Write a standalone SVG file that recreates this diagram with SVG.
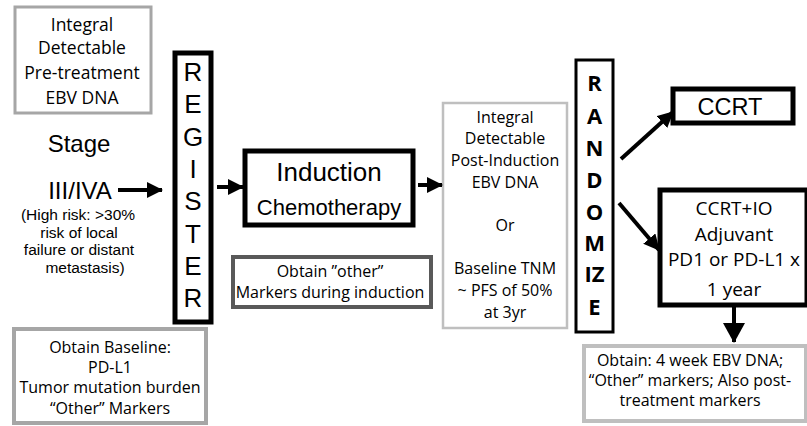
<svg xmlns="http://www.w3.org/2000/svg" width="807" height="426" viewBox="0 0 807 426">
<defs>
<marker id="ah" markerUnits="userSpaceOnUse" markerWidth="16" markerHeight="16" viewBox="0 0 16 16" refX="15" refY="8" orient="auto"><path d="M0,0 L16,8 L0,16 z" fill="#000"/></marker>
<marker id="ahb" markerUnits="userSpaceOnUse" markerWidth="20" markerHeight="22" viewBox="0 0 20 22" refX="19" refY="11" orient="auto"><path d="M0,0 L20,11 L0,22 z" fill="#000"/></marker>
</defs>
<style>
.c{font-family:"Open Sans","Noto Sans",sans-serif;fill:#000;text-anchor:middle}
.a{font-family:"Liberation Sans",Arial,sans-serif;fill:#000;text-anchor:middle}
.b{font-family:"Open Sans","Noto Sans",sans-serif;font-weight:bold;font-size:22px;text-anchor:middle}
.lg{fill:#fff;stroke:#a6a6a6}
.ll{fill:#fff;stroke:#bfbfbf}
.bk{fill:#fff;stroke:#000}
.conn line{stroke:#000;stroke-width:4;marker-end:url(#ah)}
.conn line.big{marker-end:url(#ahb)}
</style>
<rect width="807" height="426" fill="#fff"/>
<g id="pretreat" class="c" font-size="17.5">
<rect class="lg" x="15" y="7" width="136" height="106" stroke-width="3"/>
<text x="82" y="31">Integral</text>
<text x="82" y="54">Detectable</text>
<text x="82" y="79">Pre-treatment</text>
<text x="82" y="104">EBV DNA</text>
</g>
<g id="stage" class="a">
<text x="79" y="152" font-size="24">Stage</text>
<text x="80" y="199" font-size="24">III/IVA</text>
<text x="78" y="220" font-size="15.5">(High risk: &gt;30%</text>
<text x="79" y="237.5" font-size="15.5">risk of local</text>
<text x="79" y="255" font-size="15.5">failure or distant</text>
<text x="85" y="272.5" font-size="15.5">metastasis)</text>
</g>
<g id="register">
<rect class="bk" x="175" y="53" width="36" height="269" stroke-width="5"/>
<g class="a" font-size="26">
<text x="193" y="81">R</text>
<text x="193" y="113">E</text>
<text x="193" y="146">G</text>
<text x="193" y="178">I</text>
<text x="193" y="210">S</text>
<text x="193" y="243">T</text>
<text x="193" y="275">E</text>
<text x="193" y="307">R</text>
</g>
</g>
<g id="baseline" class="c" font-size="16">
<rect class="lg" x="14" y="329" width="192" height="94" stroke-width="4"/>
<text x="110" y="353">Obtain Baseline:</text>
<text x="110" y="373">PD-L1</text>
<text x="110" y="393">Tumor mutation burden</text>
<text x="110" y="414">“Other” Markers</text>
</g>
<g id="induction">
<rect class="bk" x="245" y="151" width="168" height="74" stroke-width="5"/>
<text class="a" x="329" y="181" font-size="26">Induction</text>
<text class="a" x="329" y="215" font-size="22">Chemotherapy</text>
</g>
<g id="other" class="c" font-size="16">
<rect fill="#fff" stroke="#595959" x="233" y="257" width="198" height="50" stroke-width="4"/>
<text x="330" y="277">Obtain ”other”</text>
<text x="330" y="298">Markers during induction</text>
</g>
<g id="postind" class="c" font-size="16">
<rect class="ll" x="443" y="103" width="124" height="225" stroke-width="2.5"/>
<text x="505" y="123">Integral</text>
<text x="505" y="144">Detectable</text>
<text x="505" y="166">Post-Induction</text>
<text x="505" y="188">EBV DNA</text>
<text x="505" y="231">Or</text>
<text x="505" y="274">Baseline TNM</text>
<text x="505" y="296">~ PFS of 50%</text>
<text x="505" y="318">at 3yr</text>
</g>
<g id="randomize">
<rect class="bk" x="576" y="60" width="37" height="272" stroke-width="3"/>
<text class="b" x="594.5" y="91">R</text>
<text class="b" x="594.5" y="124">A</text>
<text class="b" x="594.5" y="156">N</text>
<text class="b" x="594.5" y="188">D</text>
<text class="b" x="594.5" y="220">O</text>
<text class="b" x="594.5" y="251">M</text>
<text class="b" x="594.5" y="282">IZ</text>
<text class="b" x="594.5" y="315">E</text>
</g>
<g id="ccrt">
<rect class="bk" x="673" y="89" width="120" height="34" stroke-width="5"/>
<text class="a" x="730" y="115" font-size="23.5">CCRT</text>
</g>
<g id="ccrtio" class="c" font-size="19">
<rect class="bk" x="660" y="190" width="147" height="115" stroke-width="5"/>
<text x="734" y="215">CCRT+IO</text>
<text x="734" y="241">Adjuvant</text>
<text x="734" y="266">PD1 or PD-L1 x</text>
<text x="734" y="296">1 year</text>
</g>
<g id="post" class="c" font-size="16">
<rect class="ll" x="584" y="346" width="222" height="75" stroke-width="4"/>
<text x="690" y="366">Obtain: 4 week EBV DNA;</text>
<text x="690" y="386">“Other” markers; Also post-</text>
<text x="690" y="406">treatment markers</text>
</g>
<g id="connectors" class="conn">
<line x1="118" y1="190" x2="162" y2="190"/>
<line x1="217" y1="187" x2="243" y2="187"/>
<line x1="418" y1="185" x2="442" y2="185"/>
<line x1="621" y1="159" x2="673" y2="112"/>
<line x1="619" y1="203" x2="659" y2="250"/>
<line class="big" x1="734" y1="307" x2="734" y2="342"/>
</g>
</svg>
